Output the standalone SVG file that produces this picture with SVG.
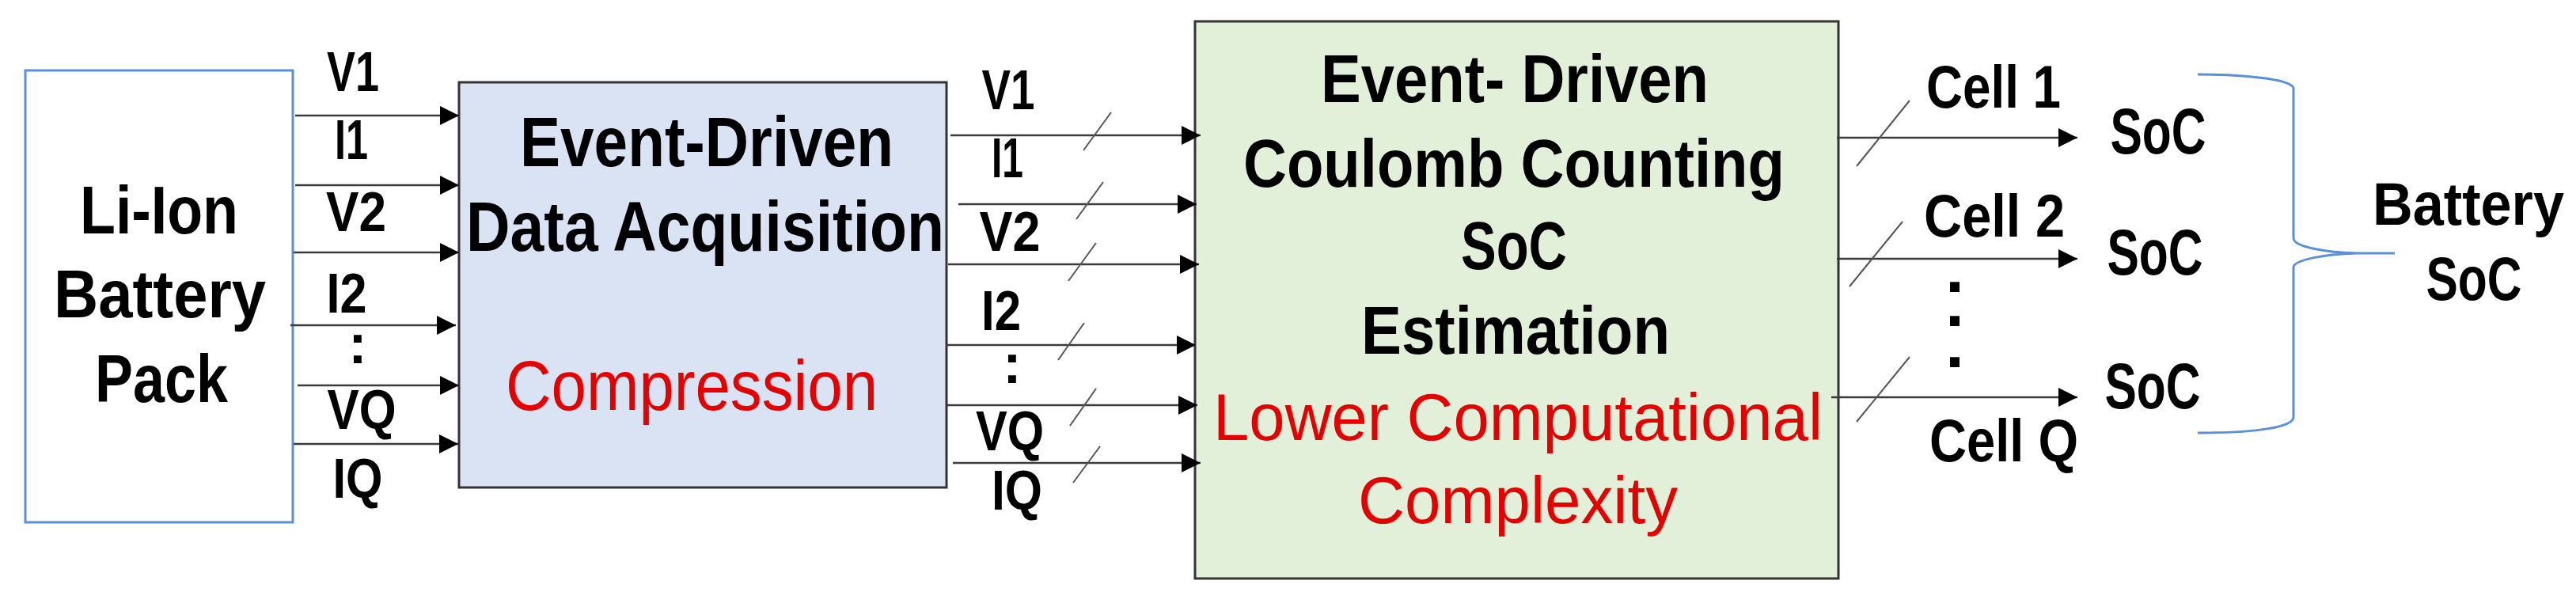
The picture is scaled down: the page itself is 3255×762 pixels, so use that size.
<svg xmlns="http://www.w3.org/2000/svg" width="3255" height="762" viewBox="0 0 3255 762">
<defs>
<style>
.t{font-family:"Liberation Sans",Arial,Helvetica,sans-serif;text-anchor:middle}
.b{font-weight:bold;fill:#000}
.r{font-weight:normal;fill:#e50000}
.ln{stroke:#3a3a3a;stroke-width:2.5;fill:none}
.sl{stroke:#555;stroke-width:2;fill:none}
.blue{stroke:#5b8fd8;stroke-width:3;fill:none}
</style>
<marker id="ah" markerUnits="userSpaceOnUse" markerWidth="24" markerHeight="24" refX="24" refY="12" orient="auto">
<path d="M0,0 L24,12 L0,24 z" fill="#000"/>
</marker>
</defs>
<rect width="3255" height="762" fill="#fff"/>

<g id="battery-pack">
<rect x="32" y="89" width="338" height="571" class="blue"/>
<text class="t b" x="201" y="295" font-size="86" textLength="200" lengthAdjust="spacingAndGlyphs">Li-Ion</text>
<text class="t b" x="202" y="401" font-size="86" textLength="268" lengthAdjust="spacingAndGlyphs">Battery</text>
<text class="t b" x="204" y="508" font-size="86" textLength="168" lengthAdjust="spacingAndGlyphs">Pack</text>
</g>

<g id="data-acquisition">
<rect x="580" y="104" width="616" height="512" fill="#dae3f3" stroke="#333" stroke-width="3"/>
<text class="t b" x="893" y="210" font-size="89" textLength="472" lengthAdjust="spacingAndGlyphs">Event-Driven</text>
<text class="t b" x="891" y="317" font-size="89" textLength="604" lengthAdjust="spacingAndGlyphs">Data Acquisition</text>
<text class="t r" x="874" y="518" font-size="89" textLength="470" lengthAdjust="spacingAndGlyphs">Compression</text>
</g>

<g id="soc-estimation">
<rect x="1510" y="27" width="813" height="704" fill="#e2f0d9" stroke="#333" stroke-width="3"/>
<text class="t b" x="1914" y="129" font-size="85" textLength="490" lengthAdjust="spacingAndGlyphs">Event- Driven</text>
<text class="t b" x="1913" y="236" font-size="85" textLength="684" lengthAdjust="spacingAndGlyphs">Coulomb Counting</text>
<text class="t b" x="1913" y="340" font-size="85" textLength="134" lengthAdjust="spacingAndGlyphs">SoC</text>
<text class="t b" x="1915" y="447" font-size="85" textLength="390" lengthAdjust="spacingAndGlyphs">Estimation</text>
<text class="t r" x="1918" y="556" font-size="84" textLength="770" lengthAdjust="spacingAndGlyphs">Lower Computational</text>
<text class="t r" x="1918" y="661" font-size="84" textLength="404" lengthAdjust="spacingAndGlyphs">Complexity</text>
</g>

<g id="input-labels">
<text class="t b" x="446" y="115" font-size="70" textLength="66" lengthAdjust="spacingAndGlyphs">V1</text>
<text class="t b" x="444" y="201" font-size="70" textLength="42" lengthAdjust="spacingAndGlyphs">I1</text>
<text class="t b" x="450" y="292" font-size="70" textLength="76" lengthAdjust="spacingAndGlyphs">V2</text>
<text class="t b" x="438" y="395" font-size="70" textLength="51" lengthAdjust="spacingAndGlyphs">I2</text>
<text class="t b" x="452" y="459" font-size="70">:</text>
<text class="t b" x="457" y="542" font-size="70" textLength="87" lengthAdjust="spacingAndGlyphs">VQ</text>
<text class="t b" x="452" y="629" font-size="70" textLength="63" lengthAdjust="spacingAndGlyphs">IQ</text>
</g>

<g id="compressed-labels">
<text class="t b" x="1274" y="138" font-size="70" textLength="67" lengthAdjust="spacingAndGlyphs">V1</text>
<text class="t b" x="1273" y="224" font-size="70" textLength="40" lengthAdjust="spacingAndGlyphs">I1</text>
<text class="t b" x="1276" y="317" font-size="70" textLength="77" lengthAdjust="spacingAndGlyphs">V2</text>
<text class="t b" x="1265" y="417" font-size="70" textLength="50" lengthAdjust="spacingAndGlyphs">I2</text>
<text class="t b" x="1279" y="484" font-size="70">:</text>
<text class="t b" x="1276" y="569" font-size="70" textLength="86" lengthAdjust="spacingAndGlyphs">VQ</text>
<text class="t b" x="1285" y="644" font-size="70" textLength="64" lengthAdjust="spacingAndGlyphs">IQ</text>
</g>

<g id="cell-labels">
<text class="t b" x="2519" y="136" font-size="76" textLength="170" lengthAdjust="spacingAndGlyphs">Cell 1</text>
<text class="t b" x="2520" y="299" font-size="76" textLength="178" lengthAdjust="spacingAndGlyphs">Cell 2</text>
<text class="t b" font-size="85"><tspan x="2470" y="369">.</tspan><tspan x="2470" y="412">.</tspan><tspan x="2470" y="464">.</tspan></text>
<text class="t b" x="2532" y="583" font-size="76" textLength="188" lengthAdjust="spacingAndGlyphs">Cell Q</text>
</g>

<g id="cell-soc">
<text class="t b" x="2727" y="194" font-size="82" textLength="121" lengthAdjust="spacingAndGlyphs">SoC</text>
<text class="t b" x="2723" y="347" font-size="82" textLength="121" lengthAdjust="spacingAndGlyphs">SoC</text>
<text class="t b" x="2720" y="516" font-size="82" textLength="121" lengthAdjust="spacingAndGlyphs">SoC</text>
</g>

<g id="battery-soc">
<path class="blue" stroke-width="2.5" d="M2777,94 C2850,94 2898,102 2898,112 L2898,301 C2898,312 2940,319 2978,320 L3026,320 M2978,320 C2940,321 2898,328 2898,338 L2898,527 C2898,540 2850,547 2777,547"/>
<text class="t b" x="3119" y="284" font-size="76" textLength="242" lengthAdjust="spacingAndGlyphs">Battery</text>
<text class="t b" x="3126" y="379" font-size="78" textLength="121" lengthAdjust="spacingAndGlyphs">SoC</text>
</g>

<g id="connectors">
<line class="ln" x1="373" y1="146" x2="580" y2="146" marker-end="url(#ah)"/>
<line class="ln" x1="373" y1="234" x2="580" y2="234" marker-end="url(#ah)"/>
<line class="ln" x1="371" y1="319" x2="580" y2="319" marker-end="url(#ah)"/>
<line class="ln" x1="367" y1="411" x2="576" y2="411" marker-end="url(#ah)"/>
<line class="ln" x1="376" y1="487" x2="580" y2="487" marker-end="url(#ah)"/>
<line class="ln" x1="371" y1="561" x2="579" y2="561" marker-end="url(#ah)"/>

<line class="ln" x1="1201" y1="171" x2="1517" y2="171" marker-end="url(#ah)"/>
<line class="ln" x1="1211" y1="258" x2="1512" y2="258" marker-end="url(#ah)"/>
<line class="ln" x1="1198" y1="334" x2="1515" y2="334" marker-end="url(#ah)"/>
<line class="ln" x1="1196" y1="436" x2="1511" y2="436" marker-end="url(#ah)"/>
<line class="ln" x1="1196" y1="512" x2="1513" y2="512" marker-end="url(#ah)"/>
<line class="ln" x1="1204" y1="585" x2="1517" y2="585" marker-end="url(#ah)"/>
<line class="sl" x1="1369" y1="190" x2="1404" y2="142"/>
<line class="sl" x1="1360" y1="277" x2="1394" y2="230"/>
<line class="sl" x1="1350" y1="355" x2="1385" y2="307"/>
<line class="sl" x1="1337" y1="455" x2="1370" y2="408"/>
<line class="sl" x1="1352" y1="538" x2="1385" y2="491"/>
<line class="sl" x1="1356" y1="610" x2="1390" y2="564"/>

<line class="ln" x1="2321" y1="174" x2="2625" y2="174" marker-end="url(#ah)"/>
<line class="ln" x1="2321" y1="327" x2="2625" y2="327" marker-end="url(#ah)"/>
<line class="ln" x1="2314" y1="502" x2="2625" y2="502" marker-end="url(#ah)"/>
<line class="sl" x1="2346" y1="210" x2="2413" y2="127"/>
<line class="sl" x1="2337" y1="362" x2="2404" y2="280"/>
<line class="sl" x1="2346" y1="533" x2="2413" y2="451"/>
</g>
</svg>
